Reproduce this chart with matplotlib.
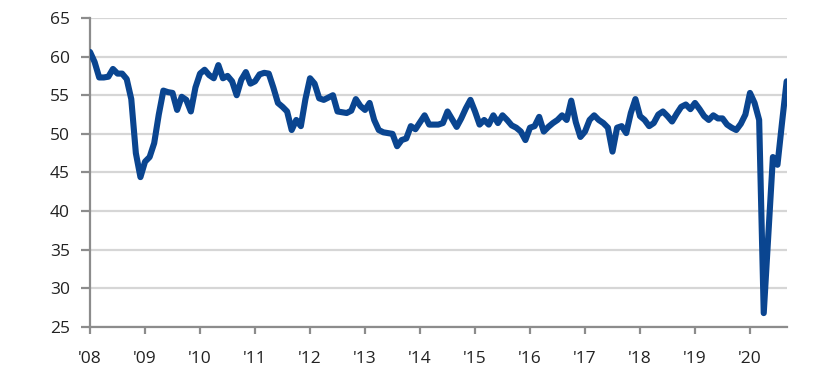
import numpy as np
import matplotlib
matplotlib.use('Agg')
import matplotlib.pyplot as plt

# monthly index readings, Jan 2008 - Sep 2020
vals_2008 = [60.6, 59.3, 57.3, 57.3, 57.4, 58.4, 57.8, 57.8, 57.1, 54.5, 47.5, 44.4]
vals_2009 = [46.4, 47.0, 48.8, 52.5, 55.6, 55.4, 55.3, 53.1, 54.8, 54.4, 52.9, 56.0]
vals_2010 = [57.8, 58.3, 57.6, 57.2, 58.9, 57.2, 57.5, 56.8, 55.0, 57.0, 58.0, 56.5]
vals_2011 = [56.8, 57.7, 57.9, 57.8, 56.0, 54.0, 53.5, 52.9, 50.5, 51.8, 51.0, 54.5]
vals_2012 = [57.2, 56.5, 54.6, 54.4, 54.7, 55.0, 52.9, 52.8, 52.7, 53.0, 54.5, 53.6]
vals_2013 = [53.1, 54.0, 51.8, 50.5, 50.2, 50.1, 50.0, 48.4, 49.2, 49.4, 51.0, 50.6]
vals_2014 = [51.5, 52.4, 51.2, 51.2, 51.2, 51.4, 52.9, 51.9, 50.9, 52.0, 53.3, 54.4]
vals_2015 = [52.9, 51.2, 51.8, 51.2, 52.4, 51.4, 52.4, 51.8, 51.1, 50.8, 50.3, 49.2]
vals_2016 = [50.8, 51.0, 52.2, 50.3, 50.9, 51.4, 51.8, 52.4, 51.8, 54.3, 51.5, 49.6]
vals_2017 = [50.3, 51.8, 52.4, 51.8, 51.4, 50.8, 47.7, 50.8, 51.0, 50.1, 52.7, 54.5]
vals_2018 = [52.3, 51.8, 51.0, 51.4, 52.5, 52.9, 52.3, 51.6, 52.6, 53.5, 53.8, 53.2]
vals_2019 = [54.0, 53.2, 52.3, 51.8, 52.4, 52.0, 52.0, 51.2, 50.8, 50.5, 51.3, 52.5]
vals_2020 = [55.3, 54.0, 51.8, 26.8, 37.0, 47.0, 46.0, 51.5, 56.8]

values = (vals_2008 + vals_2009 + vals_2010 + vals_2011 + vals_2012 + vals_2013 +
          vals_2014 + vals_2015 + vals_2016 + vals_2017 + vals_2018 + vals_2019 + vals_2020)
years = list(range(2008, 2021))
year_labels = ["'%02d" % (y % 100) for y in years]
yticks = [25, 30, 35, 40, 45, 50, 55, 60, 65]

plt.rcParams['font.family'] = ['Open Sans', 'DejaVu Sans']

fig = plt.figure(figsize=(8.14, 3.77), dpi=100)
ax = fig.add_axes([0.1106, 0.1326, 0.8558, 0.8197])

months = np.arange(len(values))
ax.plot(months, values, color='#0A4590', linewidth=4.4, solid_joinstyle='round',
        solid_capstyle='round', zorder=3)

ax.set_xlim(0, len(values) - 1)
ax.set_ylim(25, 65)
ax.set_yticks(yticks)
ax.set_xticks([12 * i for i in range(len(years))])
ax.set_xticklabels(year_labels)

ax.grid(True, axis='y', color='#D6D6D6', linewidth=1.6, zorder=0)
ax.set_axisbelow(True)

for s in ['top', 'right']:
    ax.spines[s].set_visible(False)
for s in ['left', 'bottom']:
    ax.spines[s].set_color('#8C8C8C')
    ax.spines[s].set_linewidth(1.6)

ax.tick_params(axis='y', length=6.5, width=1.6, color='#8C8C8C', pad=8,
               labelsize=12.5, labelcolor='#222222')
ax.tick_params(axis='x', length=5, width=1.6, color='#8C8C8C', pad=12,
               labelsize=12.5, labelcolor='#222222')

fig.savefig('out.png', dpi=100)
